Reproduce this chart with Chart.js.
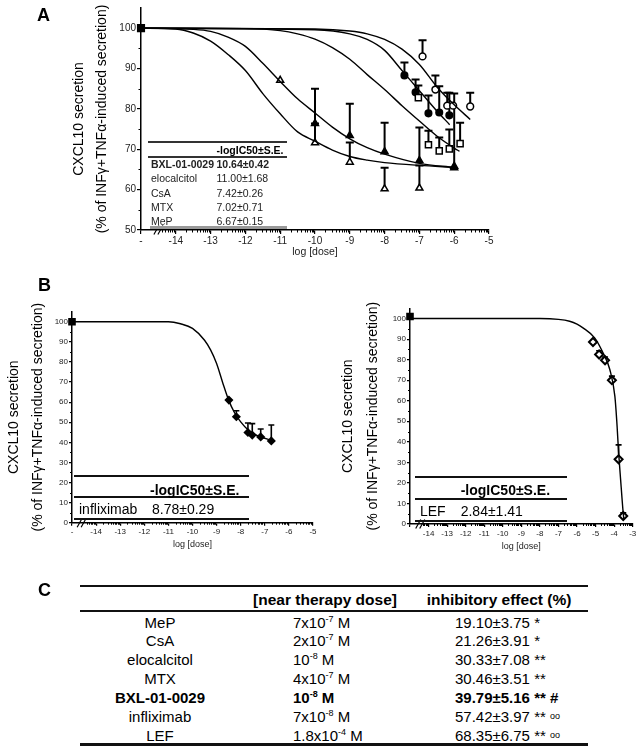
<!DOCTYPE html>
<html>
<head>
<meta charset="utf-8">
<script src="https://cdn.jsdelivr.net/npm/chart.js@4.4.1/dist/chart.umd.min.js"></script>
<style>
  body { margin: 0; background: #fff; font-family: Arial, "Liberation Sans", sans-serif; color: #000; }
  #page { position: relative; width: 640px; height: 749px; overflow: hidden; }
  canvas { position: absolute; }
  .t { position: absolute; white-space: nowrap; line-height: 1; }
  .hl { position: absolute; }
</style>
</head>
<body>
<div id="page">
  <canvas id="chartA" width="520" height="262" style="left:0;top:0"></canvas>
  <canvas id="chartB1" width="330" height="252" style="left:0;top:300px"></canvas>
  <canvas id="chartB2" width="310" height="252" style="left:330px;top:300px"></canvas>
</div>
<script>
// ---- Panel A data (log dose vs % secretion) ----
const ctrlAX = [-15];
const ctrlAY = [100];

// open triangles (elocalcitol)
const eloX = [-11, -10, -9, -8, -7, -6];
const eloY = [87.1, 71.6, 66.8, 60.2, 60.4, 65.4];
const eloErr = [0, 4.8, 4.9, 5.2, 5.6, 0];
// filled triangles (BXL-01-0029)
const bxlX = [-10, -9, -8, -7, -6];
const bxlY = [76.4, 73.4, 69.4, 67.2, 65.8];
const bxlErr = [8.6, 7.9, 7.2, 8.2, 18];
// open circles (MeP)
const mepX = [-6.91, -6.54, -6.2, -6.03, -5.54];
const mepY = [93.0, 84.8, 80.8, 80.8, 80.6];
const mepErr = [4, 3.5, 3.2, 0, 3.4];
// filled circles (MTX)
const mtxX = [-7.43, -7.11, -6.74, -6.43, -6.14];
const mtxY = [88.3, 84.1, 78.9, 79.1, 78.4];
const mtxErr = [3.2, 3.2, 4.4, 6.5, 5.6];
// open squares (CsA)
const csaX = [-7.03, -6.74, -6.43, -6.14, -5.83];
const csaY = [82.8, 71.1, 69.6, 70.1, 71.4];
const csaErr = [3, 3.5, 3.3, 4.8, 5.2];

// fitted curves
const fitEloX = [-15, -14, -13.5, -13, -12.5, -12, -11.5, -11, -10.5, -10, -9.5, -9, -8.5, -8, -7, -6];
const fitEloY = [100, 99.8, 98.8, 96.8, 93.5, 89.5, 83.8, 78.8, 74.3, 72.0, 69.8, 68.2, 67.3, 66.7, 66.0, 65.5];
const fitBxlX = [-15, -13.5, -13, -12.5, -12, -11.5, -11, -10.5, -10, -9.5, -9, -8.5, -8, -7, -6];
const fitBxlY = [100, 99.7, 99.2, 97.8, 95.5, 91.3, 86.8, 82.5, 79.0, 75.5, 72.6, 70.4, 68.8, 66.5, 65.5];
const fitMepX = [-15, -10, -9, -8.5, -8, -7.5, -7, -6.5, -6, -5.54];
const fitMepY = [100, 99.8, 99.3, 98.6, 97.2, 94.8, 91.0, 85.5, 81.0, 77.4];
const fitMtxX = [-15, -10, -9, -8.5, -8, -7.5, -7, -6.5, -6.13];
const fitMtxY = [100, 99.6, 98.6, 97.2, 94.5, 89.5, 84.5, 79.5, 76.1];
const fitCsaX = [-15, -12, -11, -10.5, -10, -9.5, -9, -8.5, -8, -7.5, -7, -6.5, -6, -5.85];
const fitCsaY = [100, 99.9, 99.4, 98.6, 97.3, 95.2, 92.3, 88.5, 84.8, 80.8, 77.0, 73.3, 70.3, 69.5];

// ---- Panel B data ----
const ctrlB1X = [-15];
const ctrlB1Y = [100];
const inflX = [-8.49, -8.18, -7.70, -7.52, -7.17, -6.73];
const inflY = [61.0, 52.7, 44.9, 43.6, 42.7, 40.7];
const inflErr = [0, 3, 4.7, 5.7, 3.9, 7.9];
const fitInflX = [-15, -11, -10.5, -10, -9.5, -9.25, -9, -8.75, -8.5, -8.25, -8, -7.7, -7.5, -7.2, -6.73];
const fitInflY = [100, 100, 99.0, 96.7, 90.8, 86.0, 79.2, 69.8, 61.0, 54.6, 50.2, 46.3, 44.6, 42.8, 41.0];

const ctrlB2X = [-15];
const ctrlB2Y = [101];
const lefX = [-5.14, -4.81, -4.49, -4.12, -3.76, -3.51];
const lefY = [88.6, 82.5, 79.7, 70.0, 31.5, 3.9];
const lefErr = [0, 1.8, 1.6, 2, 7, 1.6];
const fitLefX = [-15, -8, -7, -6.4, -6, -5.68, -5.05, -4.6, -4.23, -3.96, -3.84, -3.78, -3.65, -3.51, -3.47];
const fitLefY = [100, 100, 99.6, 98.7, 97.3, 95.5, 90.6, 83.3, 75.1, 62.1, 47.5, 37.9, 21.5, 5.2, 2.0];

// ---- tables ----
const icDrugsA = ['BXL-01-0029', 'elocalcitol', 'CsA', 'MTX', 'MeP'];
const icValsA = ['10.64±0.42', '11.00±1.68', '7.42±0.26', '7.02±0.71', '6.67±0.15'];
const icDrugB1 = 'infliximab', icValB1 = '8.78±0.29';
const icDrugB2 = 'LEF', icValB2 = '2.84±1.41';

const cDrugs = ['MeP', 'CsA', 'elocalcitol', 'MTX', 'BXL-01-0029', 'infliximab', 'LEF'];
const cDoseMant = ['7x10', '2x10', '10', '4x10', '10', '7x10', '1.8x10'];
const cDoseExp = ['-7', '-7', '-8', '-7', '-8', '-8', '-4'];
const cEffMean = ['19.10', '21.26', '30.33', '30.46', '39.79', '57.42', '68.35'];
const cEffSE = ['3.75', '3.91', '7.08', '3.51', '5.16', '3.97', '6.75'];
const cEffSig = ['*', '*', '**', '**', '** #', '**', '**'];
const cEffExtra = ['', '', '', '', '', 'oo', 'oo'];

Chart.defaults.font.family = 'Arial, "Liberation Sans", sans-serif';

const pts = (xs, ys) => xs.map((x, i) => ({ x: x, y: ys[i] }));

// one-sided (upper) error bars
const errorBars = {
    id: 'errorBars',
    beforeDatasetsDraw(chart) {
        const ctx = chart.ctx, xs = chart.scales.x, ys = chart.scales.y;
        chart.data.datasets.forEach(ds => {
            if (!ds.errs) return;
            ctx.save();
            ctx.strokeStyle = '#000';
            ctx.lineWidth = ds.errWidth || 2;
            ds.data.forEach((p, i) => {
                const e = ds.errs[i];
                if (!e) return;
                const px = xs.getPixelForValue(p.x);
                const y0 = ys.getPixelForValue(p.y);
                const y1 = ys.getPixelForValue(p.y + e);
                const c = ds.capWidth || 4;
                ctx.beginPath();
                ctx.moveTo(px, y0); ctx.lineTo(px, y1);
                ctx.moveTo(px - c, y1); ctx.lineTo(px + c, y1);
                ctx.stroke();
            });
            ctx.restore();
        });
    }
};

// minor ticks (log style on x) and the axis break "//"
const minorTicks = {
    id: 'minorTicks',
    afterDraw(chart, args, opts) {
        if (!opts.yStep) return;
        const ctx = chart.ctx, xs = chart.scales.x, ys = chart.scales.y, a = chart.chartArea;
        ctx.save();
        ctx.strokeStyle = '#000';
        ctx.lineWidth = 1;
        ctx.beginPath();
        for (let v = ys.min + opts.yStep; v < 100; v += opts.yStep) {
            if (v % 10 === 0) continue;
            const py = Math.round(ys.getPixelForValue(v)) + 0.5;
            ctx.moveTo(a.left, py); ctx.lineTo(a.left - opts.len, py);
        }
        for (let d = Math.floor(xs.min); d < xs.max; d++) {
            for (let k = 2; k <= 9; k++) {
                const v = d + Math.log10(k);
                if (v < opts.breakAt + 0.1 || v > xs.max) continue;
                const px = Math.round(xs.getPixelForValue(v)) + 0.5;
                ctx.moveTo(px, a.bottom); ctx.lineTo(px, a.bottom + opts.len);
            }
        }
        ctx.stroke();
        const bx = xs.getPixelForValue(opts.breakAt);
        ctx.lineWidth = 1.2;
        ctx.beginPath();
        [-2, 2].forEach(dx => {
            ctx.moveTo(bx + dx - 2.5, a.bottom + 4.5);
            ctx.lineTo(bx + dx + 2.5, a.bottom - 4.5);
        });
        ctx.stroke();
        ctx.restore();
    }
};
Chart.register(errorBars, minorTicks);

function curve(xs, ys) {
    return { data: pts(xs, ys), showLine: true, pointRadius: 0, borderColor: '#000',
             borderWidth: 1.4, cubicInterpolationMode: 'monotone', fill: false };
}
function marker(xs, ys, style, filled, r, errs, extra) {
    return Object.assign({ data: pts(xs, ys), showLine: false, pointStyle: style, pointRadius: r,
             pointBackgroundColor: filled ? '#000' : '#fff', pointBorderColor: '#000',
             pointBorderWidth: 1.5, errs: errs, clip: false }, extra || {});
}

function axes(o) {
    return {
        x: {
            type: 'linear', min: o.xMin, max: o.xMax,
            afterFit: s => { s.height = o.xH; },
            border: { color: '#000', width: 1.5 },
            grid: { drawOnChartArea: false, color: '#000', lineWidth: 1.2, tickLength: o.tick },
            ticks: { stepSize: 1, autoSkip: false, maxRotation: 0, padding: o.xPad, color: '#222',
                     font: { size: o.tickSize }, callback: v => v === o.xMin ? o.firstLabel : String(v) },
            title: { display: true, text: 'log [dose]', color: '#222',
                     font: { size: o.xTitleSize, lineHeight: 1.2 }, padding: { top: 0, bottom: o.xTitlePad } }
        },
        y: {
            min: o.yMin, max: 105,
            afterBuildTicks: s => { s.ticks = s.ticks.filter(t => t.value <= 100); },
            afterFit: s => { s.width = o.yW; },
            border: { color: '#000', width: 1.5 },
            grid: { drawOnChartArea: false, color: '#000', lineWidth: 1.2, tickLength: o.tick },
            ticks: { stepSize: 10, padding: 1, color: '#222', font: { size: o.tickSize } },
            title: { display: true, color: '#000',
                     text: ['CXCL10 secretion', '(% of INFγ+TNFα-induced secretion)'],
                     font: { size: 14, lineHeight: o.yTitleLh + 'px' }, padding: { top: 0, bottom: 0 } }
        }
    };
}

function createPanelA() {
    new Chart(document.getElementById('chartA'), {
        type: 'scatter',
        data: { datasets: [
            curve(fitEloX, fitEloY), curve(fitBxlX, fitBxlY),
            curve(fitMepX, fitMepY), curve(fitMtxX, fitMtxY), curve(fitCsaX, fitCsaY),
            marker(bxlX, bxlY, 'triangle', true, 4, bxlErr, { capWidth: 4 }),
            marker(eloX, eloY, 'triangle', false, 4, eloErr, { capWidth: 4 }),
            marker(csaX, csaY, 'rect', false, 4.3, csaErr, { capWidth: 4 }),
            marker(mtxX, mtxY, 'circle', true, 3.3, mtxErr, { capWidth: 4 }),
            marker(mepX, mepY, 'circle', false, 3.4, mepErr, { capWidth: 4 }),
            marker(ctrlAX, ctrlAY, 'rect', true, 4.7, null)
        ] },
        options: {
            responsive: false, animation: false,
            layout: { padding: { left: 68, top: 8, right: 31, bottom: 0 } },
            plugins: { legend: { display: false }, tooltip: { enabled: false },
                       minorTicks: { yStep: 5, len: 2.5, breakAt: -14.5 } },
            scales: axes({ xMin: -15, xMax: -5, xH: 32, tick: 4, xPad: 1, tickSize: 10,
                           firstLabel: '-', xTitleSize: 10.5, xTitlePad: 4, yMin: 50, yW: 73, yTitleLh: 23 })
        }
    });
}

function createPanelB() {
    new Chart(document.getElementById('chartB1'), {
        type: 'scatter',
        data: { datasets: [
            curve(fitInflX, fitInflY),
            marker(inflX, inflY, 'rectRot', true, 3.5, inflErr, { capWidth: 3, errWidth: 1.6 }),
            marker(ctrlB1X, ctrlB1Y, 'rect', true, 4.3, null)
        ] },
        options: {
            responsive: false, animation: false,
            layout: { padding: { left: 2, top: 11.7, right: 17, bottom: 0 } },
            plugins: { legend: { display: false }, tooltip: { enabled: false },
                       minorTicks: { yStep: 5, len: 2, breakAt: -14.6 } },
            scales: axes({ xMin: -15, xMax: -5, xH: 29.3, tick: 3, xPad: 1, tickSize: 8,
                           firstLabel: '-', xTitleSize: 9, xTitlePad: 1.6, yMin: 0, yW: 70, yTitleLh: 24 })
        }
    });

    new Chart(document.getElementById('chartB2'), {
        type: 'scatter',
        data: { datasets: [
            curve(fitLefX, fitLefY),
            marker(lefX, lefY, 'rectRot', false, 4, lefErr, { capWidth: 3, errWidth: 1.6, pointBorderWidth: 2 }),
            marker(ctrlB2X, ctrlB2Y, 'rect', true, 4.3, null)
        ] },
        options: {
            responsive: false, animation: false,
            layout: { padding: { left: 5.5, top: 8.3, right: 7.3, bottom: 0 } },
            plugins: { legend: { display: false }, tooltip: { enabled: false },
                       minorTicks: { yStep: 5, len: 2, breakAt: -14.45 } },
            scales: axes({ xMin: -15, xMax: -3, xH: 28, tick: 3, xPad: 2, tickSize: 8,
                           firstLabel: '', xTitleSize: 9, xTitlePad: 0, yMin: 0, yW: 74.5, yTitleLh: 25 })
        }
    });
}

// ---- text overlays (tables and panel letters) ----
const page = document.getElementById('page');
function addText(html, x, y, align, css) {
    const d = document.createElement('div');
    d.className = 't';
    d.innerHTML = html;
    d.style.left = x + 'px';
    d.style.top = y + 'px';
    d.style.transform = align === 'center' ? 'translate(-50%,-50%)' : 'translate(0,-50%)';
    if (css) d.style.cssText += css;
    page.appendChild(d);
}
function addLine(x1, x2, y, h, color) {
    const d = document.createElement('div');
    d.className = 'hl';
    d.style.cssText = `left:${x1}px;top:${y - h / 2}px;width:${x2 - x1}px;height:${h}px;background:${color}`;
    page.appendChild(d);
}

function buildTables() {
    // panel letters
    addText('A', 37, 15, 'left', 'font-weight:bold;font-size:18px');
    addText('B', 38, 285, 'left', 'font-weight:bold;font-size:18px');
    addText('C', 38, 590, 'left', 'font-weight:bold;font-size:18px');

    // panel A IC50 table
    addLine(148, 287, 142, 1.5, '#333');
    addLine(148, 287, 157, 1.5, '#333');
    addLine(150, 287, 227.5, 2.5, '#999');
    addText('-logIC50±S.E.', 216.5, 150, 'left', 'font-weight:bold;font-size:10.5px');
    icDrugsA.forEach((d, i) => {
        const y = 164 + i * 14.25;
        const b = i === 0 ? 'font-weight:bold;' : '';
        addText(d, 151, y, 'left', b + 'font-size:10.5px;color:#222');
        addText(icValsA[i], 216.5, y, 'left', b + 'font-size:10.5px;color:#222');
    });

    // panel B tables
    [475.7, 497, 518.7].forEach(y => addLine(74, 249, y, 2, '#111'));
    addText('-logIC50±S.E.', 150, 490, 'left', 'font-weight:bold;font-size:14px');
    addText(icDrugB1, 79, 509, 'left', 'font-size:14px');
    addText(icValB1, 152, 509, 'left', 'font-size:14px');

    [477.3, 499, 520.7].forEach(y => addLine(415, 567, y, 2, '#111'));
    addText('-logIC50±S.E.', 460.7, 490, 'left', 'font-weight:bold;font-size:14px');
    addText(icDrugB2, 420, 510.7, 'left', 'font-size:14px');
    addText(icValB2, 460.7, 510.7, 'left', 'font-size:14px');

    // panel C table
    addLine(80, 588, 586, 2, '#111');
    addLine(80, 588, 611, 2, '#111');
    addLine(80, 588, 744, 3, '#111');
    addText('[near therapy dose]', 325, 600, 'center', 'font-weight:bold;font-size:15.5px');
    addText('inhibitory effect (%)', 499, 600, 'center', 'font-weight:bold;font-size:15.5px');
    cDrugs.forEach((d, i) => {
        const y = 621.5 + i * 18.85;
        const b = i === 4 ? 'font-weight:bold;' : '';
        addText(d, 160, y, 'center', b + 'font-size:15px');
        addText(`${cDoseMant[i]}<sup style="font-size:9px;line-height:0">${cDoseExp[i]}</sup> M`, 293, y, 'left', b + 'font-size:15px');
        const extra = cEffExtra[i] ? ` <span style="font-size:9px;vertical-align:3px;font-weight:normal">${cEffExtra[i]}</span>` : '';
        addText(`${cEffMean[i]}±${cEffSE[i]} ${cEffSig[i]}${extra}`, 455, y, 'left', b + 'font-size:15px');
    });
}

createPanelA();
createPanelB();
buildTables();
</script>
</body>
</html>
